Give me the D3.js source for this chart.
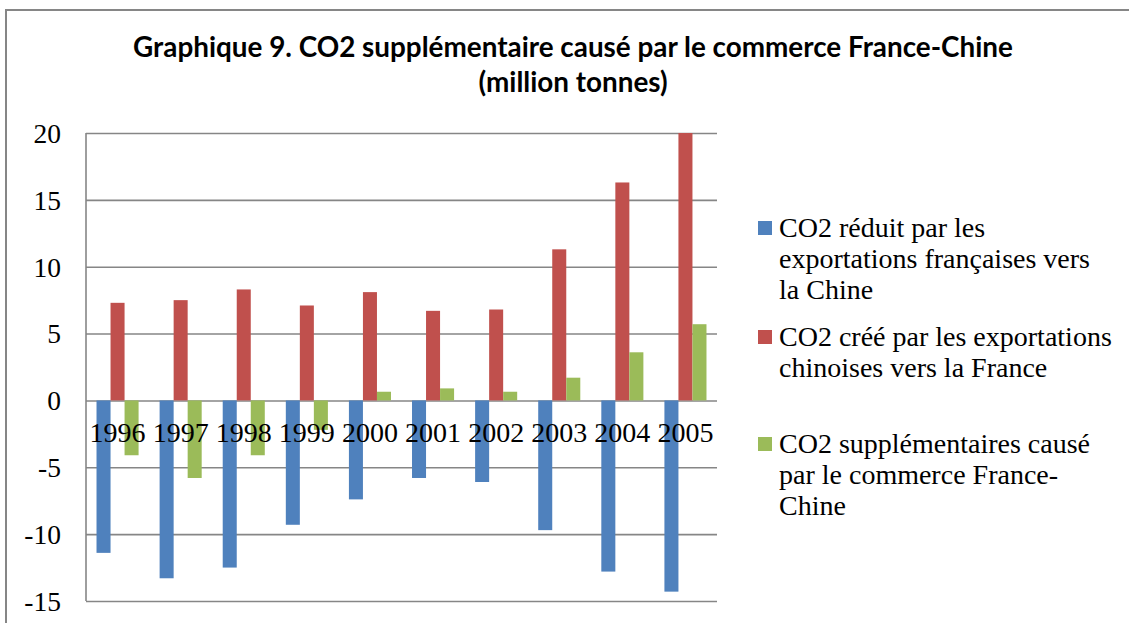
<!DOCTYPE html>
<html>
<head>
<meta charset="utf-8">
<script src="https://cdn.jsdelivr.net/npm/d3@7"></script>
<style>
    body { margin: 0; background: #fff; }
    svg { display: block; }
    .tick text { font-family: "Liberation Serif", serif; fill: #000; }
</style>
</head>
<body>
<div id="chart"></div>
<script>
// Data
const years = ['1996', '1997', '1998', '1999', '2000', '2001', '2002', '2003', '2004', '2005'];
const reduced = [-11.4, -13.3, -12.5, -9.3, -7.4, -5.8, -6.1, -9.7, -12.8, -14.3];
const created = [7.3, 7.5, 8.3, 7.1, 8.1, 6.7, 6.8, 11.3, 16.3, 20.0];
const extra = [-4.1, -5.8, -4.1, -2.2, 0.65, 0.9, 0.65, 1.7, 3.6, 5.7];
const yTicks = [-15, -10, -5, 0, 5, 10, 15, 20];

const seriesNames = [
    ['CO2 réduit par les', 'exportations françaises vers', 'la Chine'],
    ['CO2 créé par les exportations', 'chinoises vers la France'],
    ['CO2 supplémentaires causé', 'par le commerce France-', 'Chine']
];
const seriesColors = ['#4f81bd', '#c0504d', '#9bbb59'];
const seriesValues = [reduced, created, extra];

const titleLines = ['Graphique 9. CO2 supplémentaire causé par le commerce France-Chine', '(million tonnes)'];

const W = 1129, H = 623;
const plot = { left: 86, right: 717, top: 133, bottom: 601 };
const serifFont = '"Liberation Serif", serif';

const svg = d3.select('#chart').append('svg')
    .attr('width', W)
    .attr('height', H);

// outer chart frame (runs off the right and bottom edges)
svg.append('rect')
    .attr('x', 6).attr('y', 10)
    .attr('width', W + 20).attr('height', H + 20)
    .attr('fill', 'none')
    .attr('stroke', '#868686')
    .attr('stroke-width', 2);

// title
const title = svg.append('text')
    .attr('text-anchor', 'middle')
    .style('font-family', 'Lato, "Open Sans", sans-serif')
    .style('font-weight', 'bold')
    .style('font-size', '24px');
title.selectAll('tspan')
    .data(titleLines)
    .enter().append('tspan')
    .attr('x', 573)
    .attr('y', (d, i) => 57 + i * 35)
    .text(d => d);
// fit the first line to the reference width
const firstLine = title.select('tspan').node();
const fitSize = 24 * 880 / firstLine.getComputedTextLength();
title.style('font-size', fitSize + 'px');

const x = d3.scaleBand()
    .domain(years)
    .range([plot.left, plot.right])
    .paddingInner(1 / 3)
    .paddingOuter(1 / 6);

const xInner = d3.scaleBand()
    .domain(d3.range(seriesValues.length))
    .range([0, x.bandwidth()]);

const y = d3.scaleLinear()
    .domain([-15, 20])
    .range([plot.bottom, plot.top]);

// gridlines + y labels
const yAxis = d3.axisLeft(y)
    .tickValues(yTicks)
    .tickFormat(d => String(d))   // plain hyphen, not the unicode minus
    .tickSizeInner(-(plot.right - plot.left))
    .tickSizeOuter(0)
    .tickPadding(25);

const yg = svg.append('g')
    .attr('transform', 'translate(' + plot.left + ',0)')
    .call(yAxis);
yg.select('.domain').remove();
yg.selectAll('.tick line')
    .attr('stroke', '#868686')
    .attr('stroke-width', 1.6);
yg.selectAll('.tick text')
    .style('font-size', '27.5px')
    .attr('dy', '0.34em');

// left axis line
svg.append('line')
    .attr('x1', plot.left).attr('x2', plot.left)
    .attr('y1', plot.top).attr('y2', plot.bottom)
    .attr('stroke', '#868686')
    .attr('stroke-width', 1.6);

// bars
seriesValues.forEach((values, s) => {
    svg.append('g')
        .selectAll('rect')
        .data(values)
        .enter().append('rect')
        .attr('x', (d, i) => x(years[i]) + xInner(s))
        .attr('width', xInner.bandwidth())
        .attr('y', d => y(Math.max(0, d)))
        .attr('height', d => Math.abs(y(d) - y(0)))
        .attr('fill', seriesColors[s]);
});

// category labels, drawn just under the zero line (over the bars)
svg.append('g')
    .selectAll('text')
    .data(years)
    .enter().append('text')
    .attr('x', d => x(d) + x.bandwidth() / 2)
    .attr('y', y(0) + 42)
    .attr('text-anchor', 'middle')
    .style('font-family', serifFont)
    .style('font-size', '28px')
    .text(d => d);

// legend
const legendTop = [237, 346, 453];
seriesNames.forEach((lines, s) => {
    const g = svg.append('g');
    g.append('rect')
        .attr('x', 758)
        .attr('y', legendTop[s] - 16)
        .attr('width', 14)
        .attr('height', 14)
        .attr('fill', seriesColors[s]);
    g.append('text')
        .style('font-family', serifFont)
        .style('font-size', '28px')
        .selectAll('tspan')
        .data(lines)
        .enter().append('tspan')
        .attr('x', 779)
        .attr('y', (d, i) => legendTop[s] + i * 31)
        .text(d => d);
});
</script>
</body>
</html>
